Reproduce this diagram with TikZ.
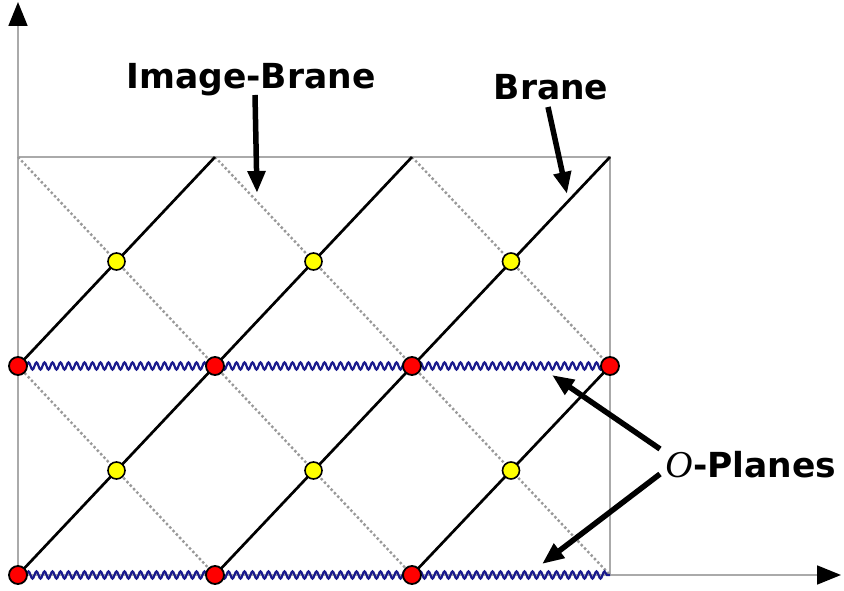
\documentclass[tikz,border=0pt]{standalone}
\usepackage{fontspec}
\setsansfont{DejaVu Sans}
\newfontfamily\serifit{Liberation Serif}
\usetikzlibrary{arrows.meta,decorations.pathmorphing,calc}
\definecolor{axisgray}{HTML}{AAAAAA}
\definecolor{dotgray}{HTML}{999999}
\definecolor{wavyblue}{HTML}{1A1A8C}
\definecolor{odot}{HTML}{FF0000}
\definecolor{ydot}{HTML}{FFFF00}
\tikzset{
  axisline/.style={draw=axisgray,line width=1.8pt,-{Triangle[length=24pt,width=19pt,color=black]}},
  frameline/.style={draw=axisgray,line width=1.3pt},
  braneline/.style={draw=black,line width=2.7pt},
  imageline/.style={draw=dotgray,line width=2.4pt,dash pattern=on 2.4pt off 2.4pt},
  oplane/.style={draw=wavyblue,line width=2.2pt,decorate,decoration={snake,amplitude=3.6pt,segment length=8pt}},
  reddot/.style={circle,draw=black,line width=1.8pt,fill=odot,minimum size=18pt,inner sep=0pt},
  yellowdot/.style={circle,draw=black,line width=1.6pt,fill=ydot,minimum size=17pt,inner sep=0pt},
  lbl/.style={font=\sffamily\bfseries\fontsize{34.5}{40}\selectfont,inner sep=0pt},
  callout/.style={draw=black,line width=5.5pt,-{Triangle[length=22pt,width=17pt]}}
}
\begin{document}
\begin{tikzpicture}[x=1pt,y=1pt]
\useasboundingbox (0,0) rectangle (844,591);
% grid coordinates
\foreach \i/\xx in {0/18,1/215,2/412,3/610}{
  \foreach \j/\yy in {0/16,1/225,2/434}{
    \coordinate (p\i\j) at (\xx,\yy);
  }
}
% axes
\coordinate (org) at (18,16);
\coordinate (ytip) at (18,589);
\coordinate (xtip) at (841,16);
\draw[frameline] (p00) rectangle (p32);
\draw[axisline] (org) -- (ytip);
\draw[axisline] (org) -- (xtip);
% image branes (dotted)
\draw[imageline] (p02) -- (p20);
\draw[imageline] (p12) -- (p30);
\draw[imageline] (p22) -- (p31);
\draw[imageline] (p01) -- (p10);
% branes (solid)
\draw[braneline] (p00) -- (p22);
\draw[braneline] (p01) -- (p12);
\draw[braneline] (p10) -- (p32);
\draw[braneline] (p20) -- (p31);
% O-planes
\draw[oplane] (p01) -- (p31);
\draw[oplane] (p00) -- (p30);
% red dots
\foreach \n in {p01,p11,p21,p31,p00,p10,p20}{
  \node[reddot] (r\n) at (\n) {};
}
% yellow dots
\node[yellowdot] (y1) at ($(p01)!0.5!(p12)$) {};
\node[yellowdot] (y2) at ($(p11)!0.5!(p22)$) {};
\node[yellowdot] (y3) at ($(p21)!0.5!(p32)$) {};
\node[yellowdot] (y4) at ($(p00)!0.5!(p11)$) {};
\node[yellowdot] (y5) at ($(p10)!0.5!(p21)$) {};
\node[yellowdot] (y6) at ($(p20)!0.5!(p31)$) {};
% labels
\node[lbl] (imglbl) at (251,511) {Image-Brane};
\node[lbl] (branelbl) at (551,504) {Brane};
\node[lbl] (olbl) at (751,126) {{\serifit\mdseries\itshape\fontsize{38}{40}\selectfont O}-Planes};
% callout arrows
\coordinate (a1s) at (255,496);
\coordinate (a1e) at (257,398);
\coordinate (a2s) at (548,484);
\coordinate (a2e) at (567,397);
\coordinate (a3s) at (660,142);
\coordinate (a3e) at (552,216);
\coordinate (a4s) at (660,117);
\coordinate (a4e) at (542,27);
\draw[callout] (a1s) -- (a1e);
\draw[callout] (a2s) -- (a2e);
\draw[callout] (a3s) -- (a3e);
\draw[callout] (a4s) -- (a4e);
\end{tikzpicture}
\end{document}
